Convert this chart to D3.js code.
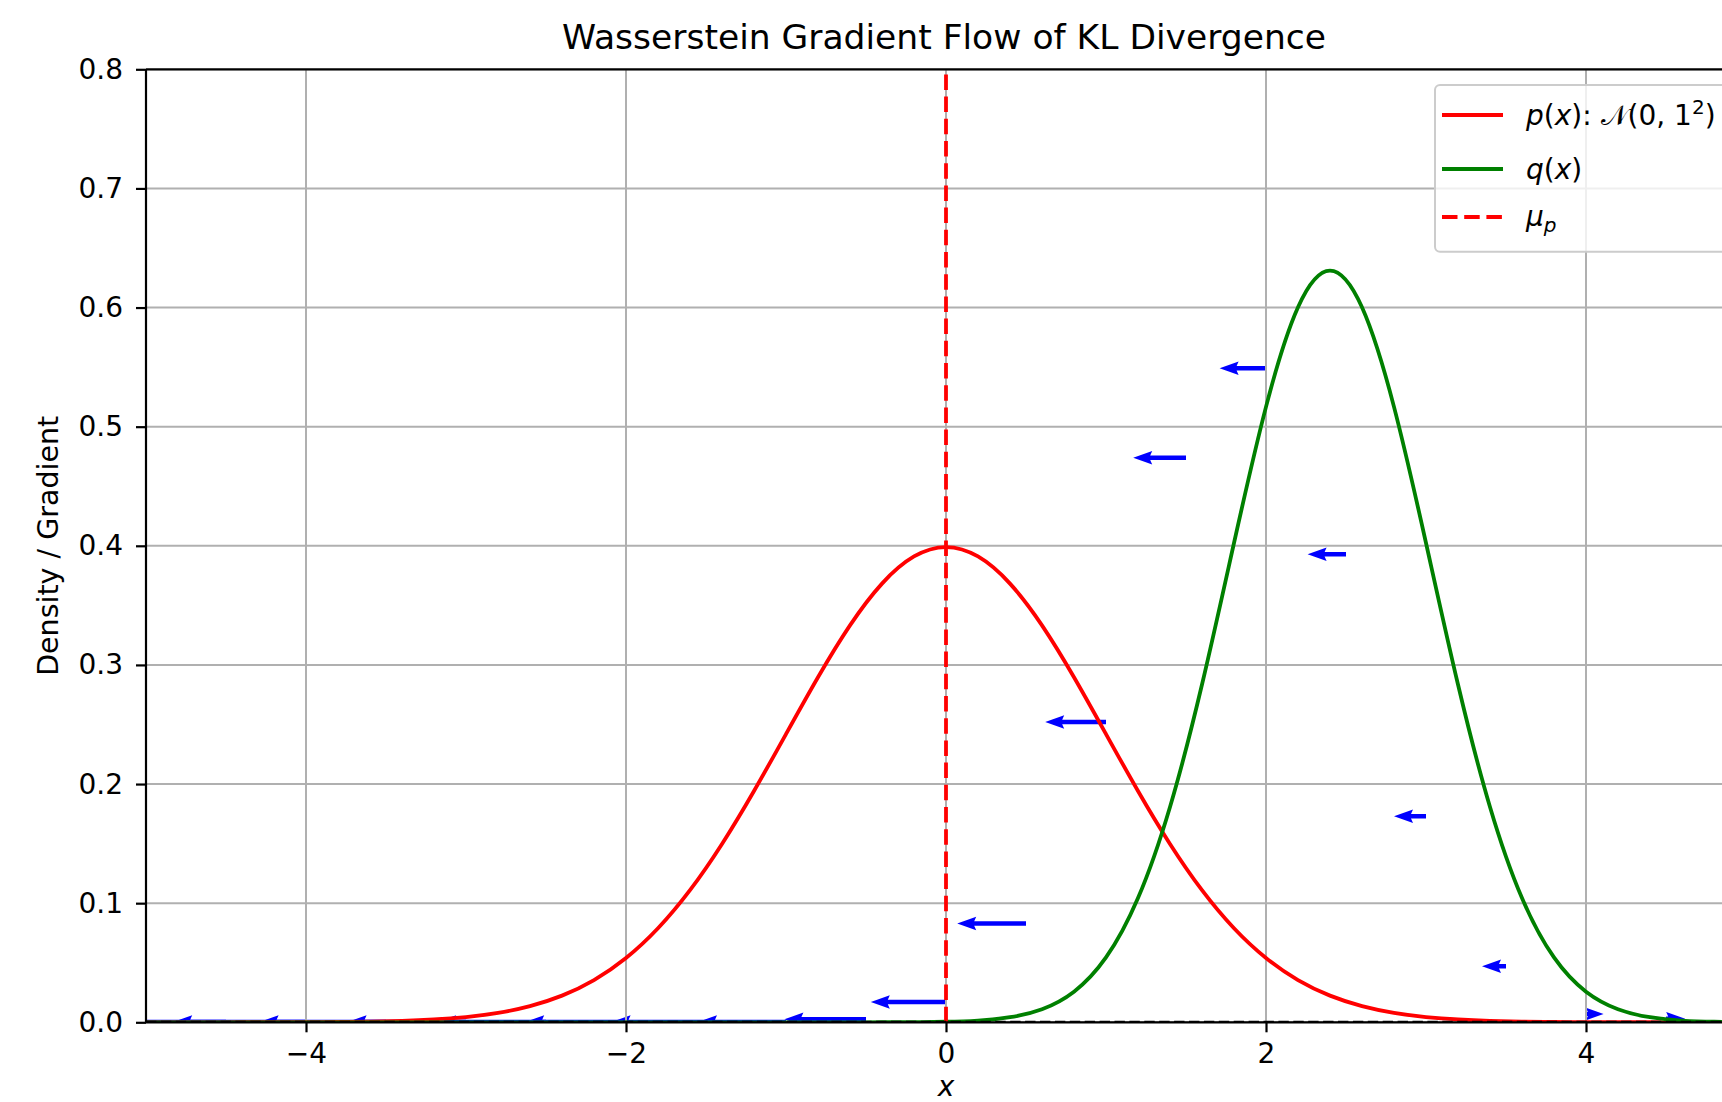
<!DOCTYPE html>
<html>
<head>
<meta charset="utf-8">
<script src="https://cdn.jsdelivr.net/npm/d3@7"></script>
<style>
html, body { margin: 0; padding: 0; background: #ffffff; overflow: hidden; }
svg { display: block; }
text { font-family: "DejaVu Sans", sans-serif; fill: #000; }
</style>
</head>
<body>
<svg id="chart" width="1722" height="1102"></svg>
<script>
// ---------------- data ----------------
const xSamples = [-5.0,-4.8,-4.6,-4.4,-4.2,-4.0,-3.8,-3.6,-3.4,-3.2,-3.0,-2.8,-2.6,-2.4,-2.2,-2.0,-1.8,-1.6,-1.4,-1.2,-1.0,-0.8,-0.6,-0.4,-0.2,
  0.0,0.2,0.4,0.6,0.8,1.0,1.2,1.4,1.6,1.8,2.0,2.2,2.4,2.6,2.8,3.0,3.2,3.4,3.6,3.8,4.0,4.2,4.4,4.6,4.8,5.0];

// p(x): N(0, 1^2)
const pValues = [0.0000015,0.000004,0.00001,0.000025,0.00006,0.000134,0.00029,0.00061,0.00123,0.00238,
  0.00443,0.00792,0.01358,0.02239,0.03547,0.05399,0.07895,0.11092,0.14973,0.19419,
  0.24197,0.28969,0.33322,0.36827,0.39104,0.39894,0.39104,0.36827,0.33322,0.28969,
  0.24197,0.19419,0.14973,0.11092,0.07895,0.05399,0.03547,0.02239,0.01358,0.00792,
  0.00443,0.00238,0.00123,0.00061,0.00029,0.000134,0.00006,0.000025,0.00001,0.000004,0.0000015];

// q(x)
const qValues = [0,0,0,0,0,0,0,0,0,0,
  0,0,0,0,0,0,0,0,0,0,
  0,0,0,0.000035,0.000135,0.00047,0.00149,0.00425,0.01099,0.02572,
  0.05445,0.10430,0.18078,0.28353,0.40234,0.51662,0.60023,0.63100,0.60023,0.51662,
  0.40234,0.28353,0.18078,0.10430,0.05445,0.02572,0.01099,0.00425,0.00149,0.00047,0.000135];

// gradient arrows (quiver): anchor x, anchor y, horizontal component
const arrowX = [-5.0,-4.5,-4.0,-3.5,-3.0,-2.5,-2.0,-1.5,-1.0,-0.5,0.0,0.5,1.0,1.5,2.0,2.5,3.0,3.5,4.0,4.5];
const arrowY = [0.0003,0.0003,0.0003,0.0003,0.0003,0.0003,0.0003,0.0003,0.0003,0.0025,0.017,0.083,0.252,0.474,0.549,0.393,0.173,0.047,0.007,0.003];
const arrowU = [-0.93,-0.88,-0.83,-0.79,-0.74,-0.68,-0.63,-0.59,-0.55,-0.51,-0.47,-0.43,-0.38,-0.33,-0.29,-0.24,-0.20,-0.15,0.11,0.12];

const muP = [0];
const xTicks = [-4, -2, 0, 2, 4];
const yTicks = [0.0, 0.1, 0.2, 0.3, 0.4, 0.5, 0.6, 0.7, 0.8];
const xDomain = [-5, 5];
const yDomain = [0, 0.8];

const titleText = "Wasserstein Gradient Flow of KL Divergence";
const yLabelText = "Density / Gradient";
const xLabelText = "x";

// ---------------- layout ----------------
const W = 1722, H = 1102;
const plotLeft = 146, plotRight = 1746, plotTop = 69.3, plotBottom = 1022.3;
const FONT = 28;

const svg = d3.select("#chart");
const x = d3.scaleLinear().domain(xDomain).range([plotLeft, plotRight]);
const y = d3.scaleLinear().domain(yDomain).range([plotBottom, plotTop]);

svg.append("rect").attr("width", W).attr("height", H).attr("fill", "#ffffff");

svg.append("defs").append("clipPath").attr("id", "plotClip")
  .append("rect").attr("x", plotLeft).attr("y", plotTop)
  .attr("width", plotRight - plotLeft).attr("height", plotBottom - plotTop);

const plot = svg.append("g").attr("clip-path", "url(#plotClip)");

// ---- quiver arrows (drawn beneath grid & lines, as in matplotlib) ----
const shaftW = 4.5, headW = 13.5, headL = 19, headAL = 17;
const arrows = arrowX.map((ax, i) => ({ x: ax, y: arrowY[i], u: arrowU[i] }));
plot.append("g").selectAll("path").data(arrows).join("path")
  .attr("fill", "#0000ff")
  .attr("d", d => {
    const x0 = x(d.x), y0 = y(d.y), x1 = x(d.x + d.u);
    const dir = Math.sign(x1 - x0) || 1;
    const len = Math.abs(x1 - x0);
    let s = 1;
    if (len < headL) s = len / headL;
    const hl = headL * s, hal = headAL * s, hw = headW * s, sw = shaftW * s;
    const pts = [[0, -sw / 2], [len - hal, -sw / 2], [len - hl, -hw / 2], [len, 0],
                 [len - hl, hw / 2], [len - hal, sw / 2], [0, sw / 2]];
    return "M" + pts.map(p => [x0 + dir * p[0], y0 + p[1]].join(",")).join("L") + "Z";
  });

// ---- grid ----
const grid = plot.append("g").attr("stroke", "#b0b0b0").attr("stroke-width", 2);
grid.selectAll("line.gx").data(xTicks).join("line").attr("class", "gx")
  .attr("x1", d => x(d)).attr("x2", d => x(d)).attr("y1", plotTop).attr("y2", plotBottom);
grid.selectAll("line.gy").data(yTicks).join("line").attr("class", "gy")
  .attr("y1", d => y(d)).attr("y2", d => y(d)).attr("x1", plotLeft).attr("x2", plotRight);

// ---- density curves ----
const line = d3.line().x(d => x(d[0])).y(d => y(d[1])).curve(d3.curveNatural);
const pData = xSamples.map((v, i) => [v, pValues[i]]);
const qData = xSamples.map((v, i) => [v, qValues[i]]);

plot.append("path").datum(pData).attr("d", line)
  .attr("fill", "none").attr("stroke", "#ff0000").attr("stroke-width", 3.8).attr("stroke-linejoin", "round");
plot.append("path").datum(qData).attr("d", line)
  .attr("fill", "none").attr("stroke", "#008000").attr("stroke-width", 3.8).attr("stroke-linejoin", "round");

// ---- mu_p vertical dashed line ----
plot.selectAll("line.mu").data(muP).join("line").attr("class", "mu")
  .attr("x1", d => x(d)).attr("x2", d => x(d)).attr("y1", plotBottom).attr("y2", plotTop)
  .attr("stroke", "#ff0000").attr("stroke-width", 3.8).attr("stroke-dasharray", "15.5,6.7");

// ---- zero reference dashed line ----
plot.append("line")
  .attr("x1", plotLeft).attr("x2", plotRight).attr("y1", y(0)).attr("y2", y(0))
  .attr("stroke", "#000").attr("stroke-width", 3).attr("stroke-dasharray", "10.4,4.5");

// ---- axes ----
const fmt = d => (d < 0 ? "\u2212" + Math.abs(d) : String(d));
const xAxis = svg.append("g").attr("transform", `translate(0,${plotBottom})`)
  .call(d3.axisBottom(x).tickValues(xTicks).tickSize(10).tickPadding(10.5).tickFormat(fmt));
const yAxis = svg.append("g").attr("transform", `translate(${plotLeft},0)`)
  .call(d3.axisLeft(y).tickValues(yTicks).tickSize(10).tickPadding(13).tickFormat(d3.format(".1f")));

[xAxis, yAxis].forEach(a => {
  a.select(".domain").remove();
  a.selectAll(".tick line").attr("stroke", "#000").attr("stroke-width", 2.2);
  a.selectAll(".tick text").attr("font-size", FONT).attr("font-family", "DejaVu Sans").attr("fill", "#000");
});

// spines
const spines = svg.append("g").attr("stroke", "#000").attr("stroke-width", 2.2);
spines.append("line").attr("x1", plotLeft).attr("x2", plotLeft).attr("y1", plotTop).attr("y2", plotBottom);
spines.append("line").attr("x1", plotLeft).attr("x2", plotRight).attr("y1", plotBottom).attr("y2", plotBottom);
spines.append("line").attr("x1", plotLeft).attr("x2", plotRight).attr("y1", plotTop).attr("y2", plotTop);
spines.append("line").attr("x1", plotRight).attr("x2", plotRight).attr("y1", plotTop).attr("y2", plotBottom);

// ---- title & labels ----
const cx = (plotLeft + plotRight) / 2;
svg.append("text").attr("x", cx - 2).attr("y", 49).attr("text-anchor", "middle")
  .attr("font-size", 34.5).text(titleText);

svg.append("text").attr("transform", `translate(58,${(plotTop + plotBottom) / 2}) rotate(-90)`)
  .attr("text-anchor", "middle").attr("font-size", 28.5).text(yLabelText);

svg.append("text").attr("x", cx).attr("y", 1095.5).attr("text-anchor", "middle")
  .attr("font-size", FONT).attr("font-style", "italic").text(xLabelText);

// ---- legend ----
const legend = svg.append("g");
legend.append("rect").attr("x", 1435).attr("y", 85).attr("width", 320).attr("height", 166.7)
  .attr("rx", 5).attr("ry", 5)
  .attr("fill", "#ffffff").attr("fill-opacity", 0.8)
  .attr("stroke", "#cccccc").attr("stroke-width", 2);

const legendItems = [
  { color: "#ff0000", dash: null, yLine: 115 },
  { color: "#008000", dash: null, yLine: 169 },
  { color: "#ff0000", dash: "15.5,6.7", yLine: 217 }
];
legendItems.forEach(it => {
  legend.append("line").attr("x1", 1442).attr("x2", 1503).attr("y1", it.yLine).attr("y2", it.yLine)
    .attr("stroke", it.color).attr("stroke-width", 3.8)
    .attr("stroke-dasharray", it.dash);
});

const tx = 1526;
// p(x): N(0, 1^2)
const t1 = legend.append("text").attr("x", tx).attr("y", 125).attr("font-size", FONT);
t1.append("tspan").attr("font-style", "italic").text("p");
t1.append("tspan").text("(");
t1.append("tspan").attr("font-style", "italic").text("x");
t1.append("tspan").text("): ");
t1.append("tspan").text("\uD835\uDCA9");
t1.append("tspan").text("(0, 1");
t1.append("tspan").attr("font-size", 20).attr("dy", -11).text("2");
t1.append("tspan").attr("dy", 11).text(")");

// q(x)
const t2 = legend.append("text").attr("x", tx).attr("y", 179).attr("font-size", FONT);
t2.append("tspan").attr("font-style", "italic").text("q");
t2.append("tspan").text("(");
t2.append("tspan").attr("font-style", "italic").text("x");
t2.append("tspan").text(")");

// mu_p
const t3 = legend.append("text").attr("x", tx).attr("y", 226).attr("font-size", FONT);
t3.append("tspan").attr("font-style", "italic").text("\u03BC");
t3.append("tspan").attr("font-style", "italic").attr("font-size", 20).attr("dy", 6).text("p");
</script>
</body>
</html>
